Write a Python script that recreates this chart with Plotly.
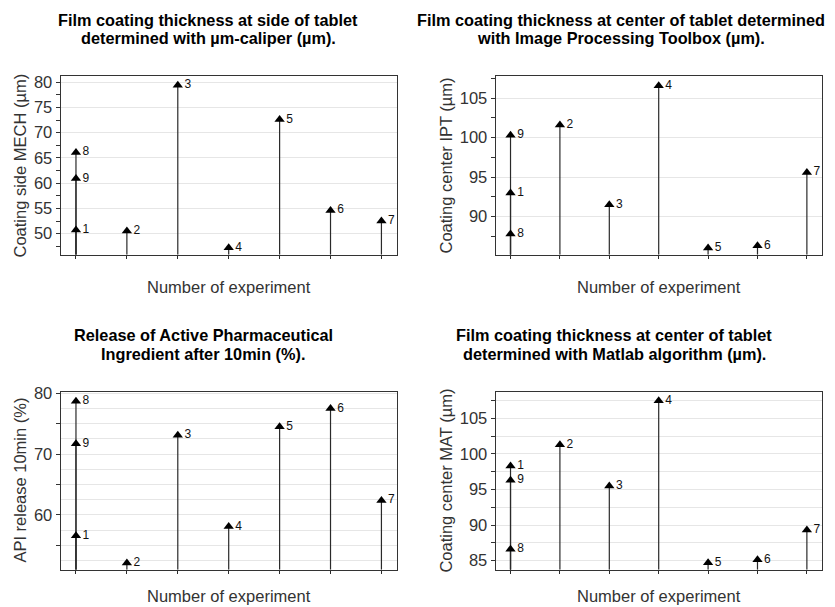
import plotly.graph_objects as go

# ---- data ----
experiments = ["1", "2", "3", "4", "5", "6", "7", "8", "9"]
positions = [1, 2, 3, 4, 5, 6, 7, 1, 1]   # experiments 8 and 9 are centre-point replicates of 1

mech = [50.7, 50.5, 79.4, 47.2, 72.6, 54.6, 52.5, 66.1, 60.9]
ipt = [93.0, 101.6, 91.5, 106.6, 86.0, 86.3, 95.6, 87.8, 100.3]
api = [56.6, 52.1, 73.1, 58.1, 74.5, 77.5, 62.4, 78.7, 71.7]
mat = [98.3, 101.3, 95.5, 107.5, 84.7, 85.1, 89.3, 86.6, 96.3]

titles = [
    ["Film coating thickness at side of tablet", "determined with µm-caliper (µm)."],
    ["Film coating thickness at center of tablet determined", "with Image Processing Toolbox (µm)."],
    ["Release of Active Pharmaceutical", "Ingredient after 10min (%)."],
    ["Film coating thickness at center of tablet", "determined with Matlab algorithm (µm)."],
]
ytitles = ["Coating side MECH (µm)", "Coating center IPT (µm)",
           "API release 10min (%)", "Coating center MAT (µm)"]
xtitle = "Number of experiment"

yranges = [[45.8, 81.2], [85.15, 107.8], [51.0, 80.3], [83.7, 108.8]]

W, H = 835, 607
FONT = "Liberation Sans, Arial, sans-serif"

# panel boxes in pixels (left, right, top, bottom)
boxes = [
    (60.7, 396.7, 70.0, 250.7),
    (495.7, 821.7, 70.0, 250.7),
    (60.7, 396.7, 389.0, 569.3),
    (495.7, 821.7, 389.0, 569.3),
]
title_cx = [208, 621, 203, 614]
title_cy = [(13, 31), (13, 31), (332, 351), (332, 351)]
ytitle_cx = [20, 446, 20, 446]
xtitle_cy = [283, 283, 596, 596]

fig = go.Figure()
datasets = [mech, ipt, api, mat]

def px(x):
    return x / W

def py(y):
    return 1 - y / H

annotations = []
for i, (vals, box, yr) in enumerate(zip(datasets, boxes, yranges)):
    n = "" if i == 0 else str(i + 1)
    xa, ya = "x" + n, "y" + n
    # stems
    sx, sy = [], []
    for p, v in zip(positions, vals):
        sx += [p, p, None]
        sy += [yr[0], v, None]
    fig.add_trace(go.Scatter(x=sx, y=sy, mode="lines", line=dict(color="#2a2a2a", width=1.2),
                             xaxis=xa, yaxis=ya, showlegend=False, hoverinfo="skip"))
    fig.add_trace(go.Scatter(x=positions, y=vals, mode="markers+text", text=experiments,
                             textposition="middle right",
                             textfont=dict(family=FONT, size=12, color="#111"),
                             marker=dict(symbol="triangle-up", size=9, color="#000"),
                             xaxis=xa, yaxis=ya, showlegend=False))
    l, r, t, b = box
    xkey = "xaxis" + n
    ykey = "yaxis" + n
    fig.layout[xkey] = dict(domain=[px(l), px(r)], range=[0.7, 7.3], anchor=ya,
                            tickvals=[1, 2, 3, 4, 5, 6, 7], showticklabels=False,
                            ticks="outside", ticklen=3, tickcolor="#2a2a2a",
                            showgrid=False, zeroline=False, showline=True, mirror=True,
                            linecolor="#333", linewidth=1.2)
    ydict = dict(domain=[py(b), py(t)], range=yr, anchor=xa,
                 ticks="outside", ticklen=4, tickcolor="#333",
                 tickfont=dict(family=FONT, size=16.5, color="#333"),
                 showgrid=True, gridcolor="#e6e6e6", gridwidth=1,
                 zeroline=False, showline=True, mirror=True,
                 linecolor="#333", linewidth=1.2)
    if i == 2:
        ydict.update(tickvals=[55, 60, 65, 70, 75, 80], ticktext=["", "60", "", "70", "", "80"],
                     minor=dict(dtick=2.5, showgrid=True, gridcolor="#e6e6e6", ticks=""))
    elif i == 3:
        ydict.update(dtick=5, minor=dict(dtick=2.5, showgrid=True, gridcolor="#e6e6e6",
                                         ticks="outside", ticklen=4, tickcolor="#333"))
    else:
        ydict.update(dtick=5, minor=dict(dtick=2.5, showgrid=False,
                                         ticks="outside", ticklen=4, tickcolor="#333"))
    fig.layout[ykey] = ydict

    for line, cy in zip(titles[i], title_cy[i]):
        annotations.append(dict(text="<b>" + line + "</b>", x=px(title_cx[i]), y=py(cy),
                                xref="paper", yref="paper", showarrow=False, xanchor="center",
                                yanchor="middle", font=dict(family=FONT, size=16.3, color="#000")))
    annotations.append(dict(text=ytitles[i], x=px(ytitle_cx[i]), y=py((t + b) / 2),
                            xref="paper", yref="paper", showarrow=False, textangle=-90,
                            xanchor="center", yanchor="middle",
                            font=dict(family=FONT, size=16.5, color="#333")))
    annotations.append(dict(text=xtitle, x=px((l + r) / 2), y=py(xtitle_cy[i]),
                            xref="paper", yref="paper", showarrow=False,
                            xanchor="center", yanchor="middle",
                            font=dict(family=FONT, size=16.5, color="#333")))

fig.update_layout(width=W, height=H, margin=dict(l=0, r=0, t=0, b=0),
                  paper_bgcolor="white", plot_bgcolor="white",
                  annotations=annotations, font=dict(family=FONT))
fig.write_html("out.html", config={"displayModeBar": False},
               post_script="document.body.style.margin='0';document.body.style.padding='0';"
                           "document.body.style.overflow='hidden';")
